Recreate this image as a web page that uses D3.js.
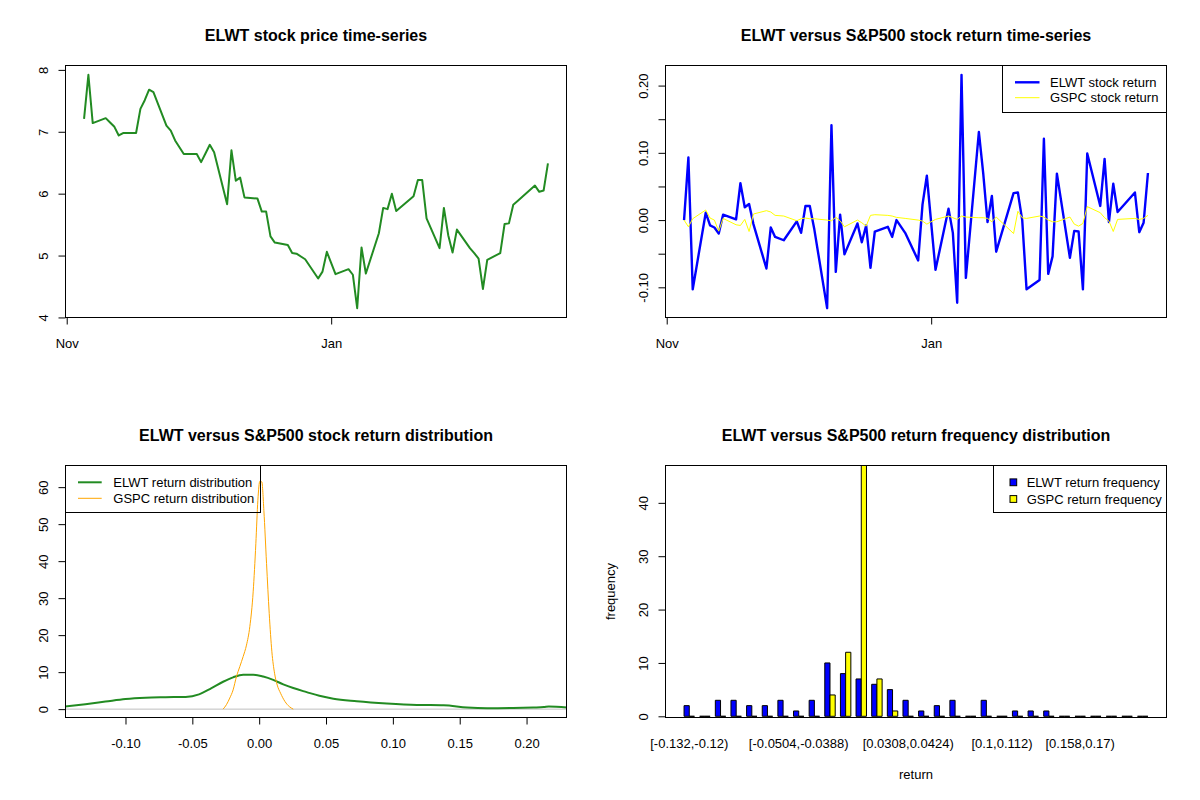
<!DOCTYPE html>
<html><head><meta charset="utf-8">
<script src="https://cdn.jsdelivr.net/npm/d3@7"></script>
<style>
body{margin:0;background:#fff;}
svg{display:block;font-family:"Liberation Sans",Arial,sans-serif;}
</style></head><body>
<svg id="c" width="1200" height="800"></svg>
<script>
// ---------------- DATA ----------------
const dates = [
"2014-11-05","2014-11-06","2014-11-07","2014-11-10","2014-11-11","2014-11-12","2014-11-13","2014-11-14","2014-11-17","2014-11-18","2014-11-19","2014-11-20","2014-11-21","2014-11-24","2014-11-25","2014-11-26","2014-11-28",
"2014-12-01","2014-12-02","2014-12-03","2014-12-04","2014-12-05","2014-12-08","2014-12-09","2014-12-10","2014-12-11","2014-12-12","2014-12-15","2014-12-16","2014-12-17","2014-12-18","2014-12-19","2014-12-22","2014-12-23","2014-12-24","2014-12-26","2014-12-29","2014-12-30","2014-12-31",
"2015-01-02","2015-01-05","2015-01-06","2015-01-07","2015-01-08","2015-01-09","2015-01-12","2015-01-13","2015-01-14","2015-01-15","2015-01-16","2015-01-20","2015-01-21","2015-01-22","2015-01-23","2015-01-26","2015-01-27","2015-01-28","2015-01-29","2015-01-30",
"2015-02-02","2015-02-03","2015-02-04","2015-02-05","2015-02-06","2015-02-09","2015-02-10","2015-02-11","2015-02-12","2015-02-13","2015-02-17","2015-02-18","2015-02-19","2015-02-20"];

const elwtPrice = [
7.21,7.92,7.14,7.22,7.15,7.08,6.94,6.98,6.98,7.37,7.51,7.68,7.64,7.10,7.02,6.86,6.64,
6.64,6.51,6.65,6.79,6.67,5.83,6.70,6.21,6.26,5.94,5.92,5.71,5.71,5.31,5.21,5.17,5.04,5.03,4.94,4.63,4.74,5.06,
4.70,4.78,4.69,4.15,5.13,4.71,5.36,5.77,5.75,6.00,5.72,5.96,6.22,6.22,5.60,5.12,5.77,5.33,5.05,5.42,
5.12,5.04,4.95,4.46,4.93,5.04,5.51,5.52,5.82,5.88,6.13,6.03,6.05,6.49];

const elwtReturn = [
0,0.093,-0.103,0.011,-0.008,-0.011,-0.020,0.008,0.001,0.055,0.019,0.024,-0.006,-0.072,-0.011,-0.025,-0.030,
-0.002,-0.019,0.021,0.021,-0.012,-0.131,0.141,-0.077,0.008,-0.051,-0.005,-0.033,-0.008,-0.071,-0.017,-0.010,-0.025,0.000,-0.019,-0.060,0.023,0.066,
-0.074,0.017,-0.019,-0.123,0.216,-0.086,0.131,0.070,-0.003,0.036,-0.047,0.040,0.041,0.000,-0.103,-0.089,0.121,-0.080,-0.054,0.069,
-0.056,-0.016,-0.017,-0.103,0.099,0.021,0.091,-0.003,0.054,0.012,0.041,-0.018,-0.004,0.070];

const gspcReturn = [
0,-0.010,0.002,0.015,0.003,0.000,-0.0165,0.0025,-0.007,-0.008,0.001,-0.017,0.009,0.014,0.012,0.007,0.006,
-0.001,0.002,0.003,0.002,0.002,0.000,-0.001,0.004,-0.001,-0.010,0.000,-0.004,-0.009,0.007,0.008,0.007,0.006,0.004,0.0025,0.000,-0.0015,-0.006,
0.001,0.006,0.0035,0.001,0.006,0.0045,0.0035,0.0035,0.0025,-0.0025,0.0045,-0.020,0.013,0.0035,0.0025,0.006,0.0045,0.000,-0.0025,-0.0025,
0.0045,-0.006,-0.009,-0.005,0.020,0.011,0.0035,-0.0015,-0.017,0.001,0.0025,0.001,0.0025,0.007];

// density curves (x = return, y = density)
const elwtDensX = [-0.1457,-0.130,-0.115,-0.100,-0.085,-0.070,-0.055,-0.045,-0.036,-0.027,-0.0195,-0.012,-0.0045,0.003,0.0105,0.018,0.0255,0.0355,0.045,0.0555,0.073,0.0955,0.118,0.138,0.1555,0.1705,0.190,0.205,0.213,0.2166,0.2304];
const elwtDensY = [0.70,1.35,2.05,2.75,3.10,3.22,3.30,4.00,5.60,7.40,8.60,9.30,9.30,8.80,7.90,6.70,5.70,4.60,3.60,2.80,2.15,1.55,1.15,1.05,0.45,0.26,0.33,0.45,0.55,0.70,0.45];
const gspcDensX = [-0.0270,-0.0245,-0.0220,-0.0195,-0.0170,-0.0145,-0.0120,-0.0095,-0.0070,-0.0045,-0.0025,-0.0010,0.0005,0.0020,0.0035,0.0055,0.0075,0.0095,0.0115,0.0135,0.0160,0.0193,0.0225,0.0255];
const gspcDensY = [0.0,1.2,3.0,5.2,8.8,11.5,14.2,17.3,22.3,31.7,44.7,56.4,61.6,61.4,53.7,39.4,25.9,15.5,9.7,6.5,4.3,2.05,0.7,0.0];

// histogram
const binLabels = ["[-0.132,-0.12)","[-0.12,-0.108)","[-0.108,-0.0968)","[-0.0968,-0.0852)","[-0.0852,-0.0736)","[-0.0736,-0.062)","[-0.062,-0.0504)","[-0.0504,-0.0388)","[-0.0388,-0.0272)","[-0.0272,-0.0156)","[-0.0156,-0.004)","[-0.004,0.0076)","[0.0076,0.0192)","[0.0192,0.0308)","[0.0308,0.0424)","[0.0424,0.054)","[0.054,0.0656)","[0.0656,0.0772)","[0.0772,0.0888)","[0.0888,0.1)","[0.1,0.112)","[0.112,0.124)","[0.124,0.135)","[0.135,0.147)","[0.147,0.158)","[0.158,0.17)","[0.17,0.182)","[0.182,0.193)","[0.193,0.205)","[0.205,0.216)"];
const shownBinLabels = [0,7,14,20,25];
const elwtFreq = [2,0,3,3,2,2,3,1,3,10,8,7,6,5,3,1,2,3,0,3,0,1,1,1,0,0,0,0,0,0];
const gspcFreq = [0,0,0,0,0,0,0,0,0,4,12,47,7,1,0,0,0,0,0,0,0,0,0,0,0,0,0,0,0,0];

// ticks
const monthTickDates = ["2014-11-01","2015-01-01"];
const monthTickLabels = ["Nov","Jan"];
const priceTicks = [4,5,6,7,8];
const returnTicks = [-0.10,-0.05,0.00,0.05,0.10,0.15,0.20];
const returnTickLabels = ["-0.10","","0.00","","0.10","","0.20"];
const densXTicks = [-0.10,-0.05,0.00,0.05,0.10,0.15,0.20];
const densYTicks = [0,10,20,30,40,50,60];
const densYLim = [-2.26,65.85];
const freqTicks = [0,10,20,30,40];
const freqYLim = [0,47];

// ---------------- DRAW ----------------
const svg = d3.select("#c");
const FS = 13;
const parse = d3.utcParse("%Y-%m-%d");
const dts = dates.map(parse);
function rpad(e){const s=e[1]-e[0];return [e[0]-0.04*s,e[1]+0.04*s];}
function rpadT(e){const s=e[1]-e[0];return [new Date(+e[0]-0.04*s),new Date(+e[1]+0.04*s)];}

const P = {
 tl:{l:65.5,r:566.5,t:65.5,b:317.5},
 tr:{l:665.5,r:1166.5,t:65.5,b:317.5},
 bl:{l:65.5,r:566.5,t:465.5,b:717.5},
 br:{l:665.5,r:1166.5,t:465.5,b:717.5}
};
const defs = svg.append("defs");
Object.entries(P).forEach(([k,b])=>{
  defs.append("clipPath").attr("id","clip-"+k).append("rect")
    .attr("x",b.l).attr("y",b.t).attr("width",b.r-b.l).attr("height",b.b-b.t);
});

function box(b){
  svg.append("rect").attr("x",b.l).attr("y",b.t).attr("width",b.r-b.l).attr("height",b.b-b.t)
    .attr("fill","none").attr("stroke","#000").attr("stroke-width",1);
}
function title(b,txt,y){
  svg.append("text").attr("x",(b.l+b.r)/2).attr("y",y).attr("text-anchor","middle")
    .attr("font-weight","bold").attr("font-size",16).attr("fill","#000").text(txt);
}
function styleAxis(g){
  g.select(".domain").remove();
  g.attr("font-family",null).attr("font-size",FS);
  g.selectAll(".tick line").attr("stroke","#000");
  g.selectAll(".tick text").attr("fill","#000");
}
function leftAxis(b,scale,ticks,labels){
  const g = svg.append("g").attr("transform",`translate(${b.l},0)`)
    .call(d3.axisLeft(scale).tickValues(ticks).tickSize(7).tickFormat((d,i)=>labels[i]));
  styleAxis(g);
  g.selectAll(".tick text").attr("x",null).attr("dy",null)
    .attr("text-anchor","middle").attr("transform","translate(-18,0) rotate(-90)");
  return g;
}
function bottomAxis(b,scale,ticks,labels){
  const g = svg.append("g").attr("transform",`translate(0,${b.b})`)
    .call(d3.axisBottom(scale).tickValues(ticks).tickSize(7).tickFormat((d,i)=>labels[i]));
  styleAxis(g);
  g.selectAll(".tick text").attr("y",30.5).attr("dy",null);
  return g;
}
function legend(rect, items){
  svg.append("rect").attr("x",rect[0]).attr("y",rect[1]).attr("width",rect[2]-rect[0]).attr("height",rect[3]-rect[1])
    .attr("fill","none").attr("stroke","#000");
  items.forEach(it=>{
    if(it.type==="line"){
      svg.append("line").attr("x1",it.x1).attr("x2",it.x2).attr("y1",it.y).attr("y2",it.y)
        .attr("stroke",it.color).attr("stroke-width",it.w);
    } else {
      svg.append("rect").attr("x",it.x1).attr("y",it.y-3.4).attr("width",it.x2-it.x1).attr("height",6.8)
        .attr("fill",it.color).attr("stroke","#000").attr("stroke-width",1);
    }
    svg.append("text").attr("x",it.tx).attr("y",it.y+4.5).attr("font-size",FS).attr("fill","#000").text(it.label);
  });
}

// ---- Panel 1: price ----
{
  const b=P.tl;
  const x=d3.scaleUtc().domain(rpadT(d3.extent(dts))).range([b.l,b.r]);
  const y=d3.scaleLinear().domain(rpad(d3.extent(elwtPrice))).range([b.b,b.t]);
  svg.append("path").datum(elwtPrice).attr("clip-path","url(#clip-tl)")
    .attr("d",d3.line().x((d,i)=>x(dts[i])).y(d=>y(d)))
    .attr("fill","none").attr("stroke","#228B22").attr("stroke-width",2).attr("stroke-linejoin","round");
  box(b);
  leftAxis(b,y,priceTicks,priceTicks.map(String));
  bottomAxis(b,x,monthTickDates.map(parse),monthTickLabels);
  title(b,"ELWT stock price time-series",40.5);
}
// ---- Panel 2: returns ----
{
  const b=P.tr;
  const x=d3.scaleUtc().domain(rpadT(d3.extent(dts))).range([b.l,b.r]);
  const y=d3.scaleLinear().domain(rpad(d3.extent(elwtReturn.concat(gspcReturn)))).range([b.b,b.t]);
  const g=svg.append("g").attr("clip-path","url(#clip-tr)");
  g.append("path").datum(elwtReturn)
    .attr("d",d3.line().x((d,i)=>x(dts[i])).y(d=>y(d)))
    .attr("fill","none").attr("stroke","#0000FF").attr("stroke-width",2.4).attr("stroke-linejoin","round");
  g.append("path").datum(gspcReturn)
    .attr("d",d3.line().x((d,i)=>x(dts[i])).y(d=>y(d)))
    .attr("fill","none").attr("stroke","#FFFF00").attr("stroke-width",1);
  box(b);
  leftAxis(b,y,returnTicks,returnTickLabels);
  bottomAxis(b,x,monthTickDates.map(parse),monthTickLabels);
  title(b,"ELWT versus S&P500 stock return time-series",40.5);
  legend([1002.5,65.5,1166.5,112.5],[
    {type:"line",x1:1015,x2:1039.5,y:82.3,color:"#0000FF",w:2.4,tx:1050,label:"ELWT stock return"},
    {type:"line",x1:1015,x2:1039.5,y:97.7,color:"#FFFF00",w:1,tx:1050,label:"GSPC stock return"}
  ]);
}
// ---- Panel 3: density ----
{
  const b=P.bl;
  const x=d3.scaleLinear().domain(rpad(d3.extent(elwtReturn))).range([b.l,b.r]);
  const y=d3.scaleLinear().domain(densYLim).range([b.b,b.t]);
  const g=svg.append("g").attr("clip-path","url(#clip-bl)");
  g.append("line").attr("x1",b.l).attr("x2",b.r).attr("y1",y(0)).attr("y2",y(0))
    .attr("stroke","#BEBEBE").attr("stroke-width",1);
  g.append("path").datum(elwtDensY)
    .attr("d",d3.line().curve(d3.curveMonotoneX).x((d,i)=>x(elwtDensX[i])).y(d=>y(d)))
    .attr("fill","none").attr("stroke","#228B22").attr("stroke-width",2);
  g.append("path").datum(gspcDensY)
    .attr("d",d3.line().curve(d3.curveMonotoneX).x((d,i)=>x(gspcDensX[i])).y(d=>y(d)))
    .attr("fill","none").attr("stroke","#FFA500").attr("stroke-width",1);
  box(b);
  leftAxis(b,y,densYTicks,densYTicks.map(String));
  bottomAxis(b,x,densXTicks,densXTicks.map(d=>d.toFixed(2)));
  title(b,"ELWT versus S&P500 stock return distribution",440.5);
  legend([65.5,465.5,260.5,512.5],[
    {type:"line",x1:78,x2:101.7,y:482.3,color:"#228B22",w:2,tx:113.3,label:"ELWT return distribution"},
    {type:"line",x1:78,x2:101.7,y:498.3,color:"#FFA500",w:1,tx:113.3,label:"GSPC return distribution"}
  ]);
}
// ---- Panel 4: histogram ----
{
  const b=P.br;
  const n=binLabels.length;
  const units=3*n;
  const x=d3.scaleLinear().domain(rpad([1,units])).range([b.l,b.r]);
  const y=d3.scaleLinear().domain(freqYLim).range([b.b-1.2,b.t]);
  const g=svg.append("g").attr("clip-path","url(#clip-br)");
  function bar(x0,x1,v,color){
    const X0=x(x0),X1=x(x1),Y0=y(0),Y1=y(v);
    g.append("path").attr("d",`M${X0},${Y0}H${X1}V${Y1}H${X0}Z`)
      .attr("fill",color).attr("stroke","#000").attr("stroke-width",1);
  }
  elwtFreq.forEach((v,i)=>bar(3*i+1,3*i+2,v,"#0000FF"));
  gspcFreq.forEach((v,i)=>bar(3*i+2,3*i+3,v,"#FFFF00"));
  box(b);
  leftAxis(b,y,freqTicks,freqTicks.map(String));
  shownBinLabels.forEach(i=>{
    svg.append("text").attr("x",x(3*i+2)).attr("y",748.3).attr("text-anchor","middle")
      .attr("font-size",FS).attr("fill","#000").text(binLabels[i]);
  });
  svg.append("text").attr("x",(b.l+b.r)/2).attr("y",779).attr("text-anchor","middle")
    .attr("font-size",FS).attr("fill","#000").text("return");
  svg.append("text").attr("transform",`translate(615,${(b.t+b.b)/2}) rotate(-90)`).attr("text-anchor","middle")
    .attr("font-size",FS).attr("fill","#000").text("frequency");
  title(b,"ELWT versus S&P500 return frequency distribution",440.5);
  legend([993.5,465.5,1166.5,512.5],[
    {type:"rect",x1:1010,x2:1016.7,y:482.3,color:"#0000FF",tx:1026.7,label:"ELWT return frequency"},
    {type:"rect",x1:1010,x2:1016.7,y:499,color:"#FFFF00",tx:1026.7,label:"GSPC return frequency"}
  ]);
}
</script>
</body></html>
